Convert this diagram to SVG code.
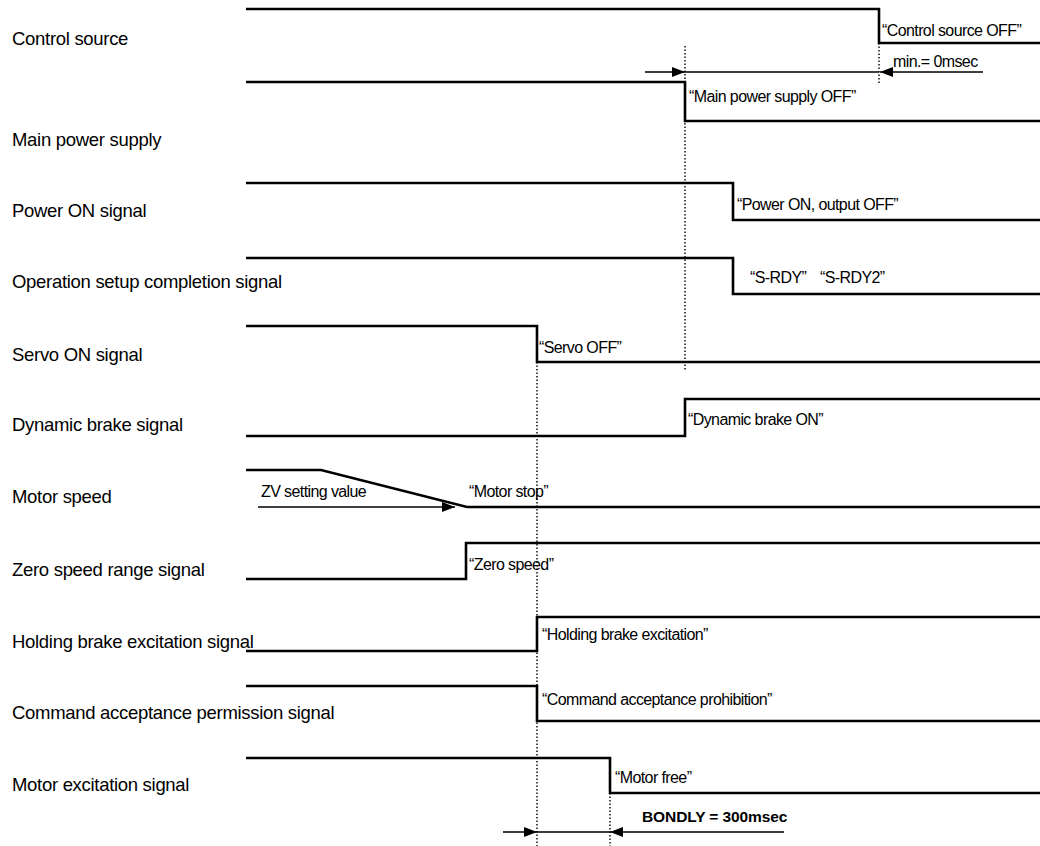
<svg xmlns="http://www.w3.org/2000/svg" width="1040" height="846" viewBox="0 0 1040 846">
  <style>
    .lbl { font-family: "Liberation Sans", Arial, sans-serif; font-size: 18.5px; letter-spacing: -0.3px; fill: #000; }
    .ann { font-family: "Liberation Sans", Arial, sans-serif; font-size: 16px; letter-spacing: -0.6px; fill: #000; }
    .bold { font-family: "Liberation Sans", Arial, sans-serif; font-size: 15.5px; font-weight: bold; letter-spacing: -0.1px; fill: #000; }
    .sig { fill: none; stroke: #000; stroke-width: 2.6; stroke-linejoin: miter; }
    .dot { fill: none; stroke: #000; stroke-width: 1.4; stroke-dasharray: 1.5 2; }
    .dim { fill: none; stroke: #000; stroke-width: 1.4; }
  </style>
  <defs>
    <marker id="arrow" markerUnits="userSpaceOnUse" markerWidth="13" markerHeight="10" refX="13" refY="5" orient="auto">
      <path d="M0,0 L13,5 L0,10 z" fill="#000"/>
    </marker>
  </defs>

  <rect width="1040" height="846" fill="#fff"/>

  <!-- signal rows: label + waveform -->
  <g id="control-source">
    <text class="lbl" x="12" y="45">Control source</text>
    <path class="sig" d="M246,9 H879 V43 H1040"/>
    <text class="ann" x="882" y="36">“Control source OFF”</text>
  </g>

  <g id="main-power-supply">
    <text class="lbl" x="12" y="146">Main power supply</text>
    <path class="sig" d="M246,82 H685 V121 H1040"/>
    <text class="ann" x="689" y="102">“Main power supply OFF”</text>
  </g>

  <g id="power-on-signal">
    <text class="lbl" x="12" y="217">Power ON signal</text>
    <path class="sig" d="M246,183 H733 V220 H1040"/>
    <text class="ann" x="737" y="210">“Power ON, output OFF”</text>
  </g>

  <g id="operation-setup-signal">
    <text class="lbl" x="12" y="288">Operation setup completion signal</text>
    <path class="sig" d="M246,258 H733 V294 H1040"/>
    <text class="ann" y="283"><tspan x="750">“S-RDY”</tspan><tspan x="820">“S-RDY2”</tspan></text>
  </g>

  <g id="servo-on-signal">
    <text class="lbl" x="12" y="361">Servo ON signal</text>
    <path class="sig" d="M246,326 H537 V362 H1040"/>
    <text class="ann" x="539" y="353">“Servo OFF”</text>
  </g>

  <g id="dynamic-brake-signal">
    <text class="lbl" x="12" y="431">Dynamic brake signal</text>
    <path class="sig" d="M246,436 H685 V399 H1040"/>
    <text class="ann" x="688" y="425">“Dynamic brake ON”</text>
  </g>

  <g id="motor-speed">
    <text class="lbl" x="12" y="503">Motor speed</text>
    <path class="sig" d="M246,470 H321 L467,507 H1040"/>
    <text class="ann" x="469" y="497">“Motor stop”</text>
    <text class="ann" x="261" y="497">ZV setting value</text>
    <path class="dim" d="M258,507 H455" marker-end="url(#arrow)"/>
  </g>

  <g id="zero-speed-signal">
    <text class="lbl" x="12" y="576">Zero speed range signal</text>
    <path class="sig" d="M246,579 H466 V543 H1040"/>
    <text class="ann" x="469" y="570">“Zero speed”</text>
  </g>

  <g id="holding-brake-signal">
    <text class="lbl" x="12" y="648">Holding brake excitation signal</text>
    <path class="sig" d="M246,651 H537 V617 H1040"/>
    <text class="ann" x="542" y="640">“Holding brake excitation”</text>
  </g>

  <g id="command-acceptance-signal">
    <text class="lbl" x="12" y="719">Command acceptance permission signal</text>
    <path class="sig" d="M246,686 H537 V721 H1040"/>
    <text class="ann" x="542" y="705">“Command acceptance prohibition”</text>
  </g>

  <g id="motor-excitation-signal">
    <text class="lbl" x="12" y="791">Motor excitation signal</text>
    <path class="sig" d="M246,758 H610 V793 H1040"/>
    <text class="ann" x="615" y="783">“Motor free”</text>
  </g>

  <!-- timing references and intervals -->
  <g id="connectors">
    <path class="dot" d="M879,43 V84"/>
    <path class="dot" d="M685,46 V370"/>
    <path class="dot" d="M537,355 V846"/>
    <path class="dot" d="M610,793 V846"/>

    <path class="dim" d="M645,72 H685" marker-end="url(#arrow)"/>
    <path class="dim" d="M685,72 H879"/>
    <path class="dim" d="M983,72 H880" marker-end="url(#arrow)"/>
    <text class="ann" x="893" y="67">min.= 0msec</text>

    <path class="dim" d="M503,832 H537" marker-end="url(#arrow)"/>
    <path class="dim" d="M537,832 H610"/>
    <path class="dim" d="M784,832 H610" marker-end="url(#arrow)"/>
    <text class="bold" x="642" y="822">BONDLY = 300msec</text>
  </g>
</svg>
